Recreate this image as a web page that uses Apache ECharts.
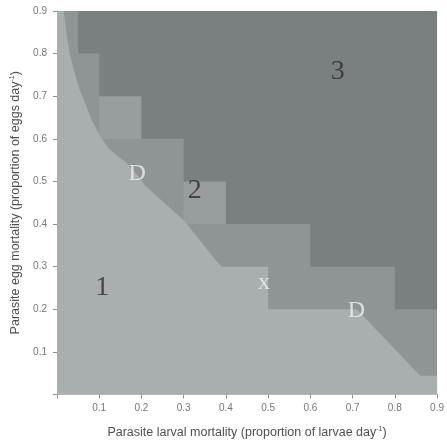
<!DOCTYPE html>
<html>
<head>
<meta charset="utf-8">
<script src="https://cdn.jsdelivr.net/npm/echarts@6/dist/echarts.min.js"></script>
<style>
html,body{margin:0;padding:0;background:#fff;}
#chart{width:447px;height:444px;}
</style>
</head>
<body>
<div id="chart"></div>
<script>
// Axis ticks
const tickValues = [0.1, 0.2, 0.3, 0.4, 0.5, 0.6, 0.7, 0.8, 0.9];

// Region 1 (light) boundary, data coordinates
const region1X = [0, 0, 0.016, 0.022, 0.030, 0.040, 0.053, 0.068, 0.084, 0.103, 0.123, 0.143, 0.163, 0.190, 0.209, 0.302, 0.372, 0.390, 0.5, 0.5, 0.71, 0.86, 0.9, 0.9];
const region1Y = [0, 0.9, 0.9, 0.85, 0.80, 0.76, 0.717, 0.68, 0.64, 0.605, 0.577, 0.56, 0.545, 0.515, 0.49, 0.407, 0.32, 0.30, 0.30, 0.20, 0.20, 0.044, 0.044, 0];

// Region 3 (dark) stepped boundary
const region3X = [0.05, 0.05, 0.1, 0.1, 0.2, 0.2, 0.3, 0.3, 0.4, 0.4, 0.6, 0.6, 0.8, 0.8, 0.9, 0.9];
const region3Y = [0.9, 0.8, 0.8, 0.7, 0.7, 0.6, 0.6, 0.5, 0.5, 0.4, 0.4, 0.3, 0.3, 0.2, 0.2, 0.9];

// Lighter cells inside region 2: [x0, y0, x1, y1]
const lightCells = [
  [0.1, 0.6, 0.2, 0.7],
  [0.3, 0.4, 0.4, 0.5]
];

// Region annotations
const labelText = ['1', '2', '3'];
const labelX = [0.107, 0.326, 0.665];
const labelY = [0.25, 0.479, 0.757];
const markText = ['D', 'D', 'x'];
const markX = [0.19, 0.709, 0.49];
const markY = [0.519, 0.196, 0.262];

const C1 = '#a9afaf', C2 = '#8f9595', C2L = '#989e9e', C3 = '#7a8080';

function pts(xs, ys) { return xs.map((x, i) => [x, ys[i]]); }

function polySeries(xs, ys, color) {
  const p = pts(xs, ys);
  return {
    type: 'custom', silent: true, animation: false,
    data: [[xs[0], ys[0]]],
    renderItem: (params, api) => ({
      type: 'polygon',
      shape: { points: p.map(q => api.coord(q)) },
      style: { fill: color, stroke: null }
    })
  };
}

const chart = echarts.init(document.getElementById('chart'), null, { renderer: 'canvas' });
const FONT = 'Liberation Sans, Arial, sans-serif';
const axisLabelStyle = { color: '#777777', fontSize: 10, fontFamily: FONT };
const fmt = v => (v === 0 ? '' : v.toFixed(1));
const nameStyle = {
  color: '#505050', fontSize: 12.5, fontFamily: FONT,
  rich: { sup: { fontSize: 7, verticalAlign: 'top', color: '#505050', fontFamily: FONT, padding: [0, 0, 7, 0] } }
};

chart.setOption({
  backgroundColor: '#ffffff',
  animation: false,
  grid: { left: 57, right: 3, top: 11, bottom: 47, show: true, backgroundColor: C2, borderWidth: 0 },
  xAxis: [{
    type: 'value', min: 0, max: 0.9, interval: 0.1, z: 10,
    axisLine: { show: true, lineStyle: { color: '#b0b0b0', width: 1 } },
    axisTick: { show: true, length: 4, lineStyle: { color: '#909090' } },
    axisLabel: Object.assign({ formatter: fmt, margin: 9 }, axisLabelStyle),
    splitLine: { show: false },
    name: 'Parasite larval mortality (proportion of larvae day{sup|-1})',
    nameLocation: 'middle', nameGap: 31, nameTextStyle: nameStyle
  }, {
    type: 'value', min: 0, max: 0.9, position: 'top', z: 10,
    axisLine: { show: true, lineStyle: { color: '#b8b8b8', width: 1 } },
    axisTick: { show: false }, axisLabel: { show: false }, splitLine: { show: false }
  }],
  yAxis: [{
    type: 'value', min: 0, max: 0.9, interval: 0.1, z: 10,
    axisLine: { show: true, lineStyle: { color: '#b0b0b0', width: 1 } },
    axisTick: { show: true, length: 4, lineStyle: { color: '#909090' } },
    axisLabel: Object.assign({ formatter: fmt, margin: 10 }, axisLabelStyle),
    splitLine: { show: false },
    name: 'Parasite egg mortality (proportion of eggs day{sup|-1})',
    nameLocation: 'middle', nameGap: 34, nameTextStyle: nameStyle
  }, {
    type: 'value', min: 0, max: 0.9, position: 'right', z: 10,
    axisLine: { show: true, lineStyle: { color: '#b0b0b0', width: 1 } },
    axisTick: { show: false }, axisLabel: { show: false }, splitLine: { show: false }
  }],
  series: [
    {
      type: 'custom', silent: true, animation: false,
      data: lightCells,
      encode: { x: [0, 2], y: [1, 3] },
      renderItem: (params, api) => {
        const a = api.coord([api.value(0), api.value(3)]);
        const b = api.coord([api.value(2), api.value(1)]);
        return { type: 'rect', shape: { x: a[0], y: a[1], width: b[0] - a[0], height: b[1] - a[1] }, style: { fill: C2L } };
      }
    },
    polySeries(region3X, region3Y, C3),
    polySeries(region1X, region1Y, C1),
    {
      type: 'scatter', silent: true, symbolSize: 0,
      data: labelText.map((t, i) => ({ value: [labelX[i], labelY[i]], name: t })),
      label: { show: true, position: 'inside', formatter: p => p.name, color: '#2e2e2e', fontSize: 28, fontFamily: 'Liberation Serif, Times New Roman, serif' }
    },
    {
      type: 'scatter', silent: true, symbolSize: 0,
      data: markText.map((t, i) => ({ value: [markX[i], markY[i]], name: t })),
      label: { show: true, position: 'inside', formatter: p => p.name, color: '#eef0f0', fontSize: 24, fontFamily: 'Liberation Serif, Times New Roman, serif' }
    }
  ]
});
</script>
</body>
</html>
